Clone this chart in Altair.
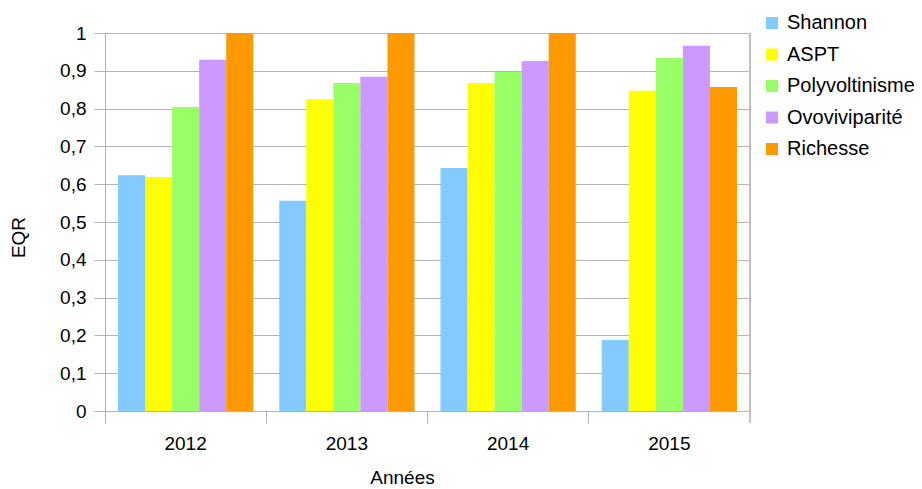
import altair as alt
import pandas as pd

years = ["2012", "2013", "2014", "2015"]
series = ["Shannon", "ASPT", "Polyvoltinisme", "Ovoviviparité", "Richesse"]
colors = ["#83CAFF", "#FFFF00", "#99FF66", "#CC99FF", "#FF9900"]
shannon = [0.624, 0.556, 0.643, 0.188]
aspt = [0.619, 0.825, 0.868, 0.847]
polyvoltinisme = [0.804, 0.868, 0.897, 0.934]
ovoviviparite = [0.929, 0.884, 0.926, 0.966]
richesse = [1.0, 1.0, 1.0, 0.857]
y_ticks = [0, 0.1, 0.2, 0.3, 0.4, 0.5, 0.6, 0.7, 0.8, 0.9, 1.0]

values = [shannon, aspt, polyvoltinisme, ovoviviparite, richesse]
rows = []
for s, vals in zip(series, values):
    for yr, v in zip(years, vals):
        rows.append({"Année": yr, "Série": s, "EQR": v})
df = pd.DataFrame(rows)

FONT = "Liberation Sans"
GRID = "#b3b3b3"

bars = alt.Chart(df).mark_bar(strokeWidth=0).encode(
    x=alt.X("Année:N", sort=years,
            scale=alt.Scale(paddingInner=0, paddingOuter=0),
            axis=alt.Axis(title="Années", labelAngle=0, bandPosition=0,
                          tickSize=12, tickColor=GRID, domainColor=GRID,
                          labelFontSize=19, labelColor="#000000", labelPadding=11,
                          titleFontSize=19, titleFontWeight="normal", titleColor="#000000",
                          titleX=297, titleY=72, titleBaseline="alphabetic", grid=False)),
    xOffset=alt.XOffset("Série:N", sort=series,
                        scale=alt.Scale(paddingInner=0, paddingOuter=0.48)),
    y=alt.Y("EQR:Q", scale=alt.Scale(domain=[0, 1], nice=False),
            axis=alt.Axis(title="EQR", values=y_ticks,
                          labelExpr="replace(format(datum.value, '.1~f'), '.', ',')",
                          tickSize=11, tickColor=GRID, domainColor=GRID,
                          gridColor=GRID, labelFontSize=19, labelColor="#000000",
                          labelPadding=8, titleFontSize=19, titleFontWeight="normal",
                          titleColor="#000000", titleX=-77, titleY=204)),
    color=alt.Color("Série:N", sort=series,
                    scale=alt.Scale(domain=series, range=colors),
                    legend=alt.Legend(title=None, orient="none", legendX=657, legendY=-20,
                                      symbolType="square", symbolSize=144,
                                      symbolStrokeWidth=0, labelFontSize=20,
                                      labelColor="#000000", labelOffset=5,
                                      rowPadding=11.5, padding=0)),
)

border = alt.Chart(df).mark_rule(color="#c0c0c0", strokeWidth=1).encode(
    x=alt.value(645), y=alt.value(0), y2=alt.value(390)
)

chart = alt.layer(bars, border).properties(
    width=645, height=378,
    autosize=alt.AutoSizeParams(type="none"),
    padding={"left": 97, "top": 25, "right": 164, "bottom": 78},
).configure(font=FONT).configure_view(stroke=None)

chart.save("out.html", embed_options={"renderer": "svg", "actions": False})
